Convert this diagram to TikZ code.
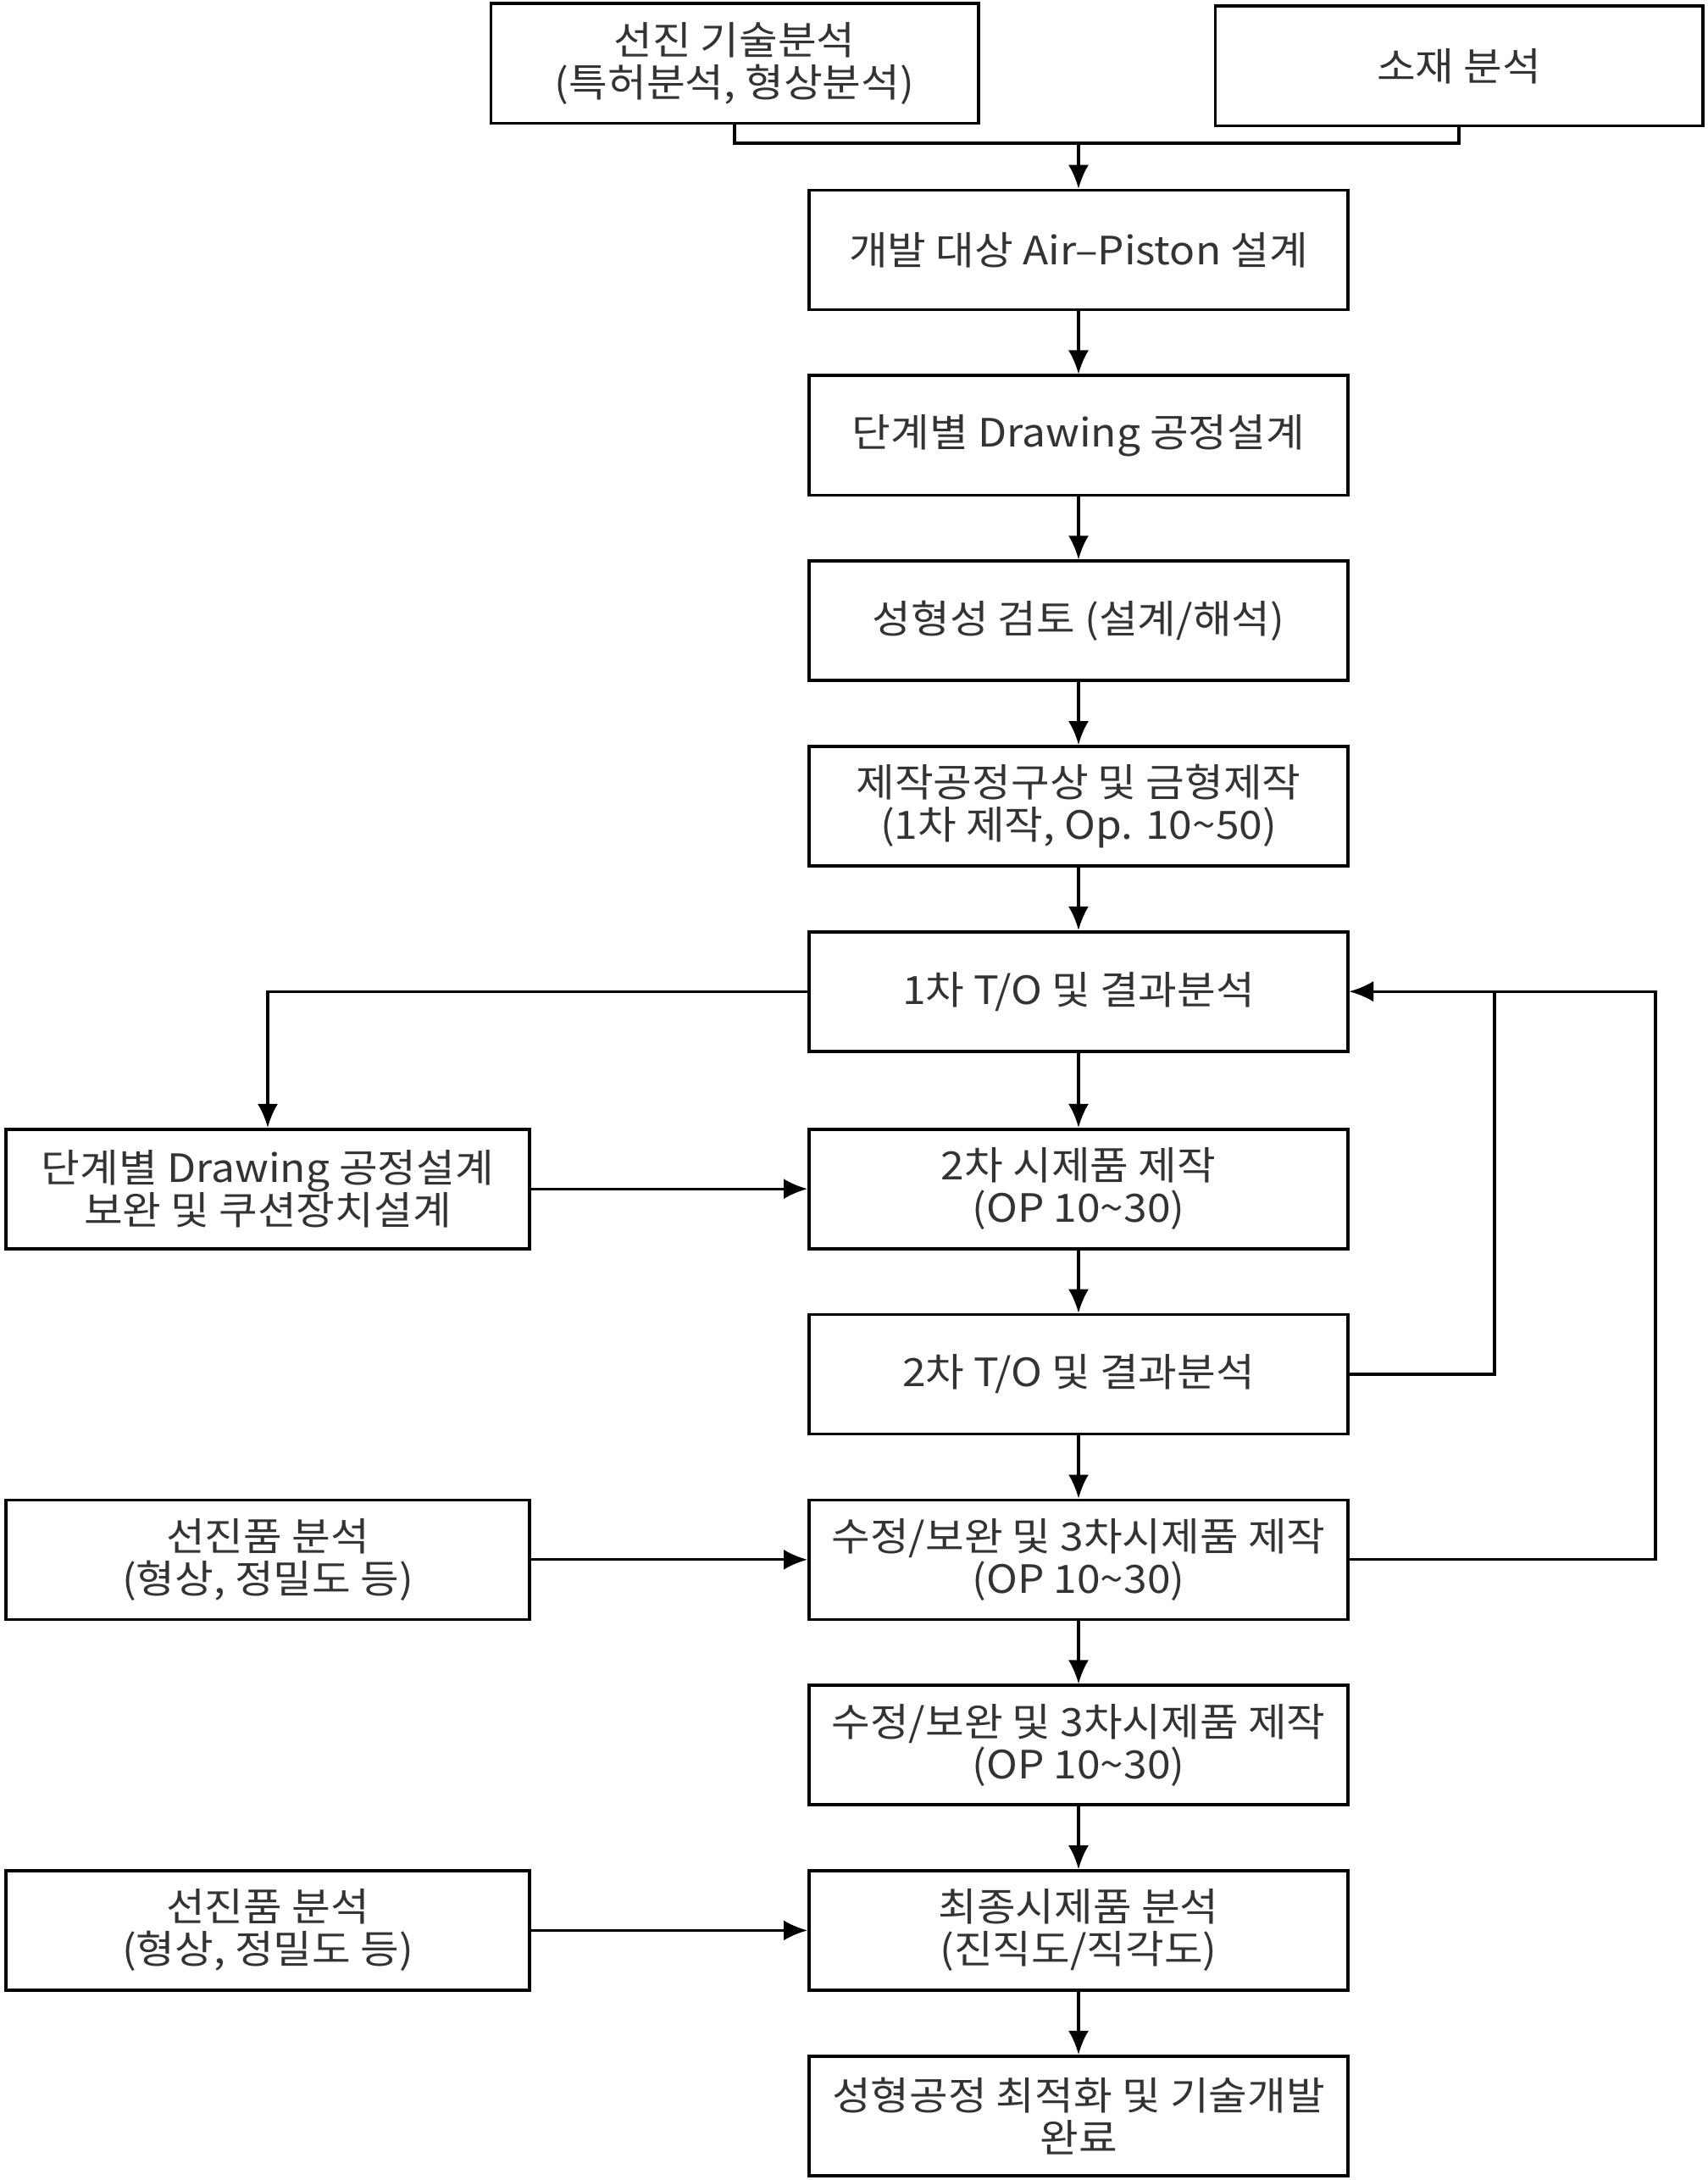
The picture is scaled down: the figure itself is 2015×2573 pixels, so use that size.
\documentclass[tikz,border=0pt]{standalone}
\usepackage{fontspec}
\setmainfont[FakeStretch=1.08]{Noto Sans CJK KR}
\usepackage{tikz}
\usetikzlibrary{positioning,arrows.meta}

\begin{document}
\begin{tikzpicture}[
    x=0.5pt, y=-0.5pt,
    node distance=37.1pt,
    every node/.style={
        draw, line width=1.8pt,
        inner sep=0pt,
        align=center,
        text=black!80,
        font=\fontsize{23}{25}\selectfont
    },
    stepbox/.style={minimum width=318.2pt, minimum height=70.5pt},
    sidebox/.style={minimum width=309.2pt, minimum height=70.5pt},
    topbox/.style={minimum width=287.7pt, minimum height=70.7pt},
    link/.style={line width=1.6pt, -{Latex[length=14pt,width=12pt]}}
]
\useasboundingbox (0,0) rectangle (2015,2573);

% inputs on top
\node[topbox] (top1) at (867,75) {선진 기술분석\\(특허분석, 형상분석)};
\node[topbox] (top2) at (1722,78) {소재 분석};

% main chain
\node[stepbox] (s1) at (1273,295) {개발 대상 Air--Piston 설계};
\node[stepbox, below=of s1] (s2) {단계별 Drawing 공정설계};
\node[stepbox, below=of s2] (s3) {성형성 검토 (설계/해석)};
\node[stepbox, below=of s3] (s4) {제작공정구상 및 금형제작\\(1차 제작, Op. 10\textasciitilde50)};
\node[stepbox, below=of s4] (s5) {1차 T/O 및 결과분석};
\node[stepbox, below=44.2pt of s5] (s6) {2차 시제품 제작\\(OP 10\textasciitilde30)};
\node[stepbox, below=of s6] (s7) {2차 T/O 및 결과분석};
\node[stepbox, below=of s7] (s8) {수정/보완 및 3차시제품 제작\\(OP 10\textasciitilde30)};
\node[stepbox, below=of s8] (s9) {수정/보완 및 3차시제품 제작\\(OP 10\textasciitilde30)};
\node[stepbox, below=of s9] (s10) {최종시제품 분석\\(진직도/직각도)};
\node[stepbox, below=of s10] (s11) {성형공정 최적화 및 기술개발\\완료};

% side inputs
\node[sidebox, left=163pt of s6] (l1) {단계별 Drawing 공정설계\\보완 및 쿠션장치설계};
\node[sidebox, left=163pt of s8] (l2) {선진품 분석\\(형상, 정밀도 등)};
\node[sidebox, left=163pt of s10] (l3) {선진품 분석\\(형상, 정밀도 등)};

% connectors
\coordinate (mj) at (1273,169);
\draw[line width=1.6pt] (top1.south) |- (mj) -| (top2.south);
\draw[link] (mj) -- (s1.north);
\foreach \a/\b in {s1/s2,s2/s3,s3/s4,s4/s5,s5/s6,s6/s7,s7/s8,s8/s9,s9/s10,s10/s11}
    \draw[link] (\a) -- (\b);
\draw[link] (s5.west) -| (l1.north);
\draw[link] (l1) -- (s6);
\draw[link] (l2) -- (s8);
\draw[link] (l3) -- (s10);
\draw[link] (s7.east) -- ++(171,0) |- (s5.east);
\draw[link] (s8.east) -- ++(361,0) |- (s5.east);
\end{tikzpicture}
\end{document}
